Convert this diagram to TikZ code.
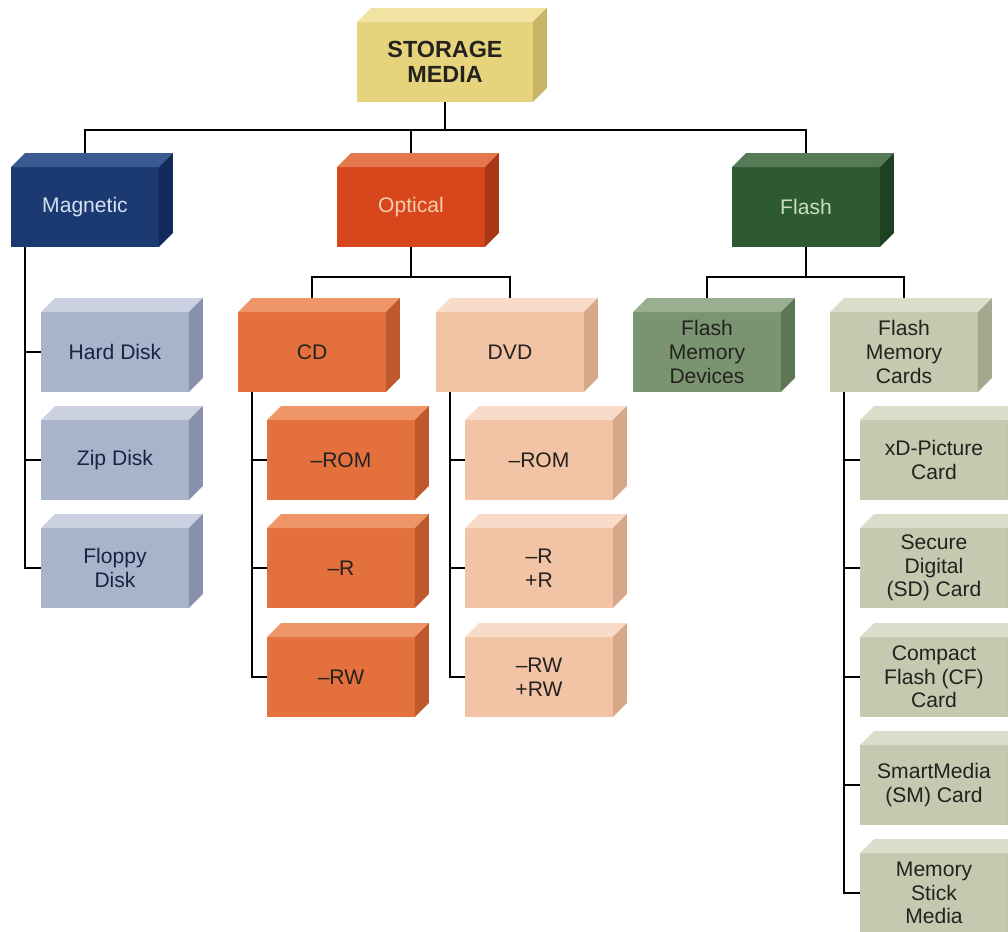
\documentclass[tikz,border=0pt]{standalone}
\usepackage{fontspec}
\setmainfont{Liberation Sans}
\usetikzlibrary{calc}
\pgfdeclarelayer{background}
\pgfsetlayers{background,main}
\definecolor{smF}{HTML}{E6D47C}\definecolor{smT}{HTML}{F1E3A2}\definecolor{smS}{HTML}{C9B566}
\definecolor{magF}{HTML}{1C3A72}\definecolor{magT}{HTML}{3C5A92}\definecolor{magS}{HTML}{12295A}
\definecolor{bgF}{HTML}{A9B3CC}\definecolor{bgT}{HTML}{CBD1E0}\definecolor{bgS}{HTML}{8891AB}
\definecolor{optF}{HTML}{D8471C}\definecolor{optT}{HTML}{E5774C}\definecolor{optS}{HTML}{A93716}
\definecolor{cdF}{HTML}{E4713D}\definecolor{cdT}{HTML}{EE9668}\definecolor{cdS}{HTML}{BF582B}
\definecolor{dvdF}{HTML}{F2C3A5}\definecolor{dvdT}{HTML}{F8DBC8}\definecolor{dvdS}{HTML}{D6A789}
\definecolor{flF}{HTML}{2D5A31}\definecolor{flT}{HTML}{557A55}\definecolor{flS}{HTML}{1F4122}
\definecolor{fmdF}{HTML}{7A9471}\definecolor{fmdT}{HTML}{9AAE90}\definecolor{fmdS}{HTML}{5D7756}
\definecolor{fmcF}{HTML}{C3CAAF}\definecolor{fmcT}{HTML}{D9DECA}\definecolor{fmcS}{HTML}{A2A98F}
\definecolor{magTx}{HTML}{D5DFF0}\definecolor{optTx}{HTML}{F7CDB0}\definecolor{flTx}{HTML}{C9DDC3}
\definecolor{darkTx}{HTML}{24221E}\definecolor{bgTx}{HTML}{1A2440}
\newcommand\cubefaces[3]{%
  \fill[#2] (#1.north west) -- ++(14,-14) -- ($(#1.north east)+(14,-14)$) -- (#1.north east) -- cycle;
  \fill[#3] (#1.north east) -- ++(14,-14) -- ($(#1.south east)+(14,-14)$) -- (#1.south east) -- cycle;
}
\tikzset{
  box/.style={minimum width=2.96cm, minimum height=1.6cm, inner sep=0pt, outer sep=0pt,
    align=center, font=\fontsize{12}{13.4}\selectfont, text=darkTx},
  smbox/.style={box, fill=smF, minimum width=3.52cm, font=\fontsize{13.3}{14.5}\selectfont\bfseries},
  magbox/.style={box, fill=magF, text=magTx},
  bgbox/.style={box, fill=bgF, text=bgTx},
  optbox/.style={box, fill=optF, text=optTx},
  cdbox/.style={box, fill=cdF},
  dvdbox/.style={box, fill=dvdF},
  flbox/.style={box, fill=flF, text=flTx},
  fmdbox/.style={box, fill=fmdF},
  fmcbox/.style={box, fill=fmcF},
  link/.style={draw=black, line width=1.1pt},
}
\begin{document}
\begin{tikzpicture}[x=0.02cm, y=-0.02cm]
\useasboundingbox (0,0) rectangle (1008,932);
\clip (0,0) rectangle (1008,932);
% level 0
\node[smbox] (sm) at (445,62) {STORAGE\\MEDIA};
% level 1
\node[magbox] (mag) at (85,207) {Magnetic};
\node[optbox] (opt) at (411,207) {Optical};
\node[flbox] (fla) at (806,207) {Flash};
% magnetic children
\node[bgbox] (hd) at (115,352) {Hard Disk};
\node[bgbox] (zip) at (115,460) {Zip Disk};
\node[bgbox] (flop) at (115,568) {Floppy\\Disk};
% optical
\node[cdbox] (cd) at (312,352) {CD};
\node[dvdbox] (dvd) at (510,352) {DVD};
\node[cdbox] (cdrom) at (341,460) {–ROM};
\node[cdbox] (cdr) at (341,568) {–R};
\node[cdbox] (cdrw) at (341,677) {–RW};
\node[dvdbox] (dvdrom) at (539,460) {–ROM};
\node[dvdbox] (dvdr) at (539,568) {–R\\+R};
\node[dvdbox] (dvdrw) at (539,677) {–RW\\+RW};
% flash
\node[fmdbox] (fmd) at (707,352) {Flash\\Memory\\Devices};
\node[fmcbox] (fmc) at (904,352) {Flash\\Memory\\Cards};
\node[fmcbox] (xd) at (934,460) {xD-Picture\\Card};
\node[fmcbox] (sd) at (934,568) {Secure\\Digital\\(SD) Card};
\node[fmcbox] (cf) at (934,677) {Compact\\Flash (CF)\\Card};
\node[fmcbox] (smc) at (934,785) {SmartMedia\\(SM) Card};
\node[fmcbox] (ms) at (934,893) {Memory\\Stick\\Media};
% faces
\cubefaces{sm}{smT}{smS}
\cubefaces{mag}{magT}{magS}
\cubefaces{opt}{optT}{optS}
\cubefaces{fla}{flT}{flS}
\cubefaces{hd}{bgT}{bgS}
\cubefaces{zip}{bgT}{bgS}
\cubefaces{flop}{bgT}{bgS}
\cubefaces{cd}{cdT}{cdS}
\cubefaces{cdrom}{cdT}{cdS}
\cubefaces{cdr}{cdT}{cdS}
\cubefaces{cdrw}{cdT}{cdS}
\cubefaces{dvd}{dvdT}{dvdS}
\cubefaces{dvdrom}{dvdT}{dvdS}
\cubefaces{dvdr}{dvdT}{dvdS}
\cubefaces{dvdrw}{dvdT}{dvdS}
\cubefaces{fmd}{fmdT}{fmdS}
\cubefaces{fmc}{fmcT}{fmcS}
\cubefaces{xd}{fmcT}{fmcS}
\cubefaces{sd}{fmcT}{fmcS}
\cubefaces{cf}{fmcT}{fmcS}
\cubefaces{smc}{fmcT}{fmcS}
\cubefaces{ms}{fmcT}{fmcS}
% connectors
\begin{pgfonlayer}{background}
\fill[white] (0,0) rectangle (1008,932);
\coordinate (busA) at ($(sm.south)+(0,28)$);
\draw[link] (sm.south) -- (busA);
\draw[link] (mag.north) -- (mag.north |- busA) -- (fla.north |- busA) -- (fla.north);
\draw[link] (opt.north) -- (opt.north |- busA);
\coordinate (busB) at ($(opt.south)+(0,30)$);
\draw[link] (opt.south) -- (busB);
\draw[link] (cd.north) -- (cd.north |- busB) -- (dvd.north |- busB) -- (dvd.north);
\coordinate (busC) at ($(fla.south)+(0,30)$);
\draw[link] (fla.south) -- (busC);
\draw[link] (fmd.north) -- (fmd.north |- busC) -- (fmc.north |- busC) -- (fmc.north);
% spines
\coordinate (spM) at ($(mag.south west)+(14,0)$);
\draw[link] (spM) -- (spM |- flop.west) -- (flop.west);
\draw[link] (spM |- hd.west) -- (hd.west);
\draw[link] (spM |- zip.west) -- (zip.west);
\coordinate (spC) at ($(cd.south west)+(14,0)$);
\draw[link] (spC) -- (spC |- cdrw.west) -- (cdrw.west);
\draw[link] (spC |- cdrom.west) -- (cdrom.west);
\draw[link] (spC |- cdr.west) -- (cdr.west);
\coordinate (spD) at ($(dvd.south west)+(14,0)$);
\draw[link] (spD) -- (spD |- dvdrw.west) -- (dvdrw.west);
\draw[link] (spD |- dvdrom.west) -- (dvdrom.west);
\draw[link] (spD |- dvdr.west) -- (dvdr.west);
\coordinate (spF) at ($(fmc.south west)+(14,0)$);
\draw[link] (spF) -- (spF |- ms.west) -- (ms.west);
\draw[link] (spF |- xd.west) -- (xd.west);
\draw[link] (spF |- sd.west) -- (sd.west);
\draw[link] (spF |- cf.west) -- (cf.west);
\draw[link] (spF |- smc.west) -- (smc.west);
\end{pgfonlayer}
\end{tikzpicture}
\end{document}
